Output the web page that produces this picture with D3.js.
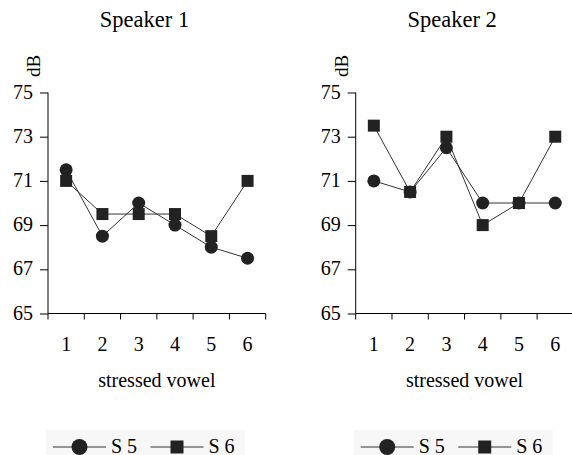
<!DOCTYPE html>
<html>
<head>
<meta charset="utf-8">
<script src="https://cdn.jsdelivr.net/npm/d3@7"></script>
<style>
  body { margin: 0; background: #fff; }
  svg { font-family: "Liberation Serif", "Times New Roman", serif; }
</style>
</head>
<body>
<svg id="chart" width="572" height="455"></svg>
<script>
// vowel categories and dB readings per speaker
var vowels = [1, 2, 3, 4, 5, 6];
var yTicks = [65, 67, 69, 71, 73, 75];
var seriesNames = ["S 5", "S 6"];

var speaker1S5 = [71.5, 68.5, 70, 69, 68, 67.5];
var speaker1S6 = [71, 69.5, 69.5, 69.5, 68.5, 71];
var speaker2S5 = [71, 70.5, 72.5, 70, 70, 70];
var speaker2S6 = [73.5, 70.5, 73, 69, 70, 73];

var panels = [
  { title: "Speaker 1", left: 48, s5: speaker1S5, s6: speaker1S6 },
  { title: "Speaker 2", left: 355.7, s5: speaker2S5, s6: speaker2S6 }
];

var svg = d3.select("#chart");
var plotW = 217.7, plotTop = 92.5, plotBottom = 313.5;
var ink = "#222";

var y = d3.scaleLinear().domain([65, 75]).range([plotBottom, plotTop]);

panels.forEach(function(p) {
  var g = svg.append("g").attr("transform", "translate(" + p.left + ",0)");

  var x = d3.scaleBand().domain(vowels).range([0, plotW]);

  // title
  g.append("text")
    .attr("x", 96.5)
    .attr("y", 27)
    .attr("text-anchor", "middle")
    .attr("font-size", 22.5)
    .text(p.title);

  // dB label
  g.append("text")
    .attr("transform", "translate(-8,66) rotate(-90)")
    .attr("text-anchor", "middle")
    .attr("font-size", 19)
    .text("dB");

  // y axis
  var yAxis = d3.axisLeft(y).tickValues(yTicks).tickSize(8).tickPadding(7);
  var ya = g.append("g").call(yAxis);
  ya.select(".domain").attr("d", "M0," + plotTop + "V" + plotBottom);
  ya.selectAll("text").attr("font-size", 20).attr("fill", "#000").attr("dy", "0.28em");
  ya.attr("font-family", null).attr("font-size", null);

  // x axis: ticks at band boundaries
  var xa = g.append("g").attr("transform", "translate(0," + plotBottom + ")");
  xa.append("line").attr("x1", 0).attr("x2", plotW).attr("stroke", "#000");
  var bounds = vowels.map(function(v) { return x(v); }).concat([plotW]);
  xa.selectAll(".tk").data(bounds).enter().append("line")
    .attr("x1", function(d) { return d; }).attr("x2", function(d) { return d; })
    .attr("y1", 0).attr("y2", 6).attr("stroke", "#000");
  xa.selectAll(".lb").data(vowels).enter().append("text")
    .attr("x", function(d) { return x(d) + x.bandwidth() / 2; })
    .attr("y", 37)
    .attr("text-anchor", "middle")
    .attr("font-size", 20)
    .text(function(d) { return d; });

  g.append("text")
    .attr("x", plotW / 2)
    .attr("y", 387)
    .attr("text-anchor", "middle")
    .attr("font-size", 20)
    .text("stressed vowel");

  var cx = function(d, i) { return x(vowels[i]) + x.bandwidth() / 2; };
  var line = d3.line()
    .x(function(d, i) { return cx(d, i); })
    .y(function(d) { return y(d); });

  [p.s5, p.s6].forEach(function(s) {
    g.append("path").datum(s).attr("d", line)
      .attr("fill", "none").attr("stroke", "#333").attr("stroke-width", 1);
  });

  g.selectAll(".c").data(p.s5).enter().append("circle")
    .attr("cx", cx).attr("cy", function(d) { return y(d); })
    .attr("r", 6.5).attr("fill", ink);
  g.selectAll(".s").data(p.s6).enter().append("rect")
    .attr("x", function(d, i) { return cx(d, i) - 6; })
    .attr("y", function(d) { return y(d) - 6; })
    .attr("width", 12).attr("height", 12).attr("fill", ink);

  // legend
  var lg = g.append("g").attr("transform", "translate(-2,430)");
  lg.append("rect").attr("x", 0).attr("y", 0).attr("width", 199).attr("height", 30).attr("fill", "#f7f7f7");
  seriesNames.forEach(function(name, i) {
    var ox = 7 + i * 97.5;
    lg.append("line").attr("x1", ox).attr("x2", ox + 53).attr("y1", 17).attr("y2", 17)
      .attr("stroke", "#333");
    if (i === 0) {
      lg.append("circle").attr("cx", ox + 26.5).attr("cy", 17).attr("r", 8).attr("fill", ink);
    } else {
      lg.append("rect").attr("x", ox + 20).attr("y", 10.5).attr("width", 13).attr("height", 13).attr("fill", ink);
    }
    lg.append("text").attr("x", ox + 58).attr("y", 23).attr("font-size", 20).text(name);
  });
});
</script>
</body>
</html>
